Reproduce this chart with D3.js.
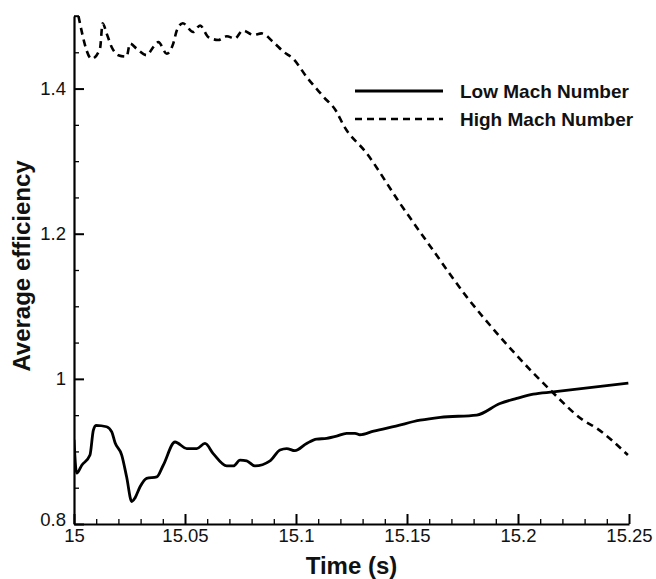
<!DOCTYPE html>
<html>
<head>
<meta charset="utf-8">
<script src="https://cdn.jsdelivr.net/npm/d3@7"></script>
<style>
  html, body { margin: 0; padding: 0; background: #fff; }
  svg text { font-family: "Liberation Sans", Arial, sans-serif; fill: #111; }
</style>
</head>
<body>
<svg id="chart"></svg>
<script>
// chart data
const lowTime = [15.000, 15.0012, 15.0035, 15.0072, 15.0087, 15.0099, 15.0147, 15.017, 15.0185, 15.0215,
  15.0237, 15.026, 15.0275, 15.0297, 15.0327, 15.0373, 15.0402, 15.0455, 15.0508, 15.0553,
  15.059, 15.0627, 15.0688, 15.0718, 15.0748, 15.0778, 15.0815, 15.0883, 15.0928, 15.0958,
  15.0995, 15.1048, 15.1093, 15.1138, 15.1183, 15.1228, 15.1266, 15.1288, 15.135, 15.145,
  15.1559, 15.165, 15.1814, 15.1919, 15.1994, 15.2069, 15.2159, 15.2497];
const lowEff = [0.916, 0.870, 0.881, 0.895, 0.929, 0.936, 0.934, 0.927, 0.912, 0.895,
  0.865, 0.831, 0.836, 0.851, 0.863, 0.865, 0.881, 0.913, 0.904, 0.904,
  0.911, 0.897, 0.880, 0.880, 0.888, 0.887, 0.880, 0.887, 0.902, 0.904,
  0.901, 0.911, 0.917, 0.918, 0.921, 0.925, 0.925, 0.923, 0.928, 0.935,
  0.943, 0.947, 0.950, 0.966, 0.973, 0.979, 0.982, 0.994];

const highTime = [15.002, 15.008, 15.0117, 15.0129, 15.0147, 15.017, 15.020, 15.0237, 15.0252, 15.0282,
  15.0327, 15.0357, 15.038, 15.0418, 15.0447, 15.0463, 15.049, 15.0537, 15.0568, 15.0605,
  15.065, 15.0688, 15.0725, 15.076, 15.0808, 15.0845, 15.0898, 15.0943, 15.0988, 15.1048,
  15.1123, 15.1183, 15.1213, 15.1318, 15.1468, 15.1618, 15.1769, 15.1919, 15.2069, 15.2144,
  15.2294, 15.2354, 15.2495];
const highEff = [1.500, 1.441, 1.455, 1.490, 1.476, 1.457, 1.446, 1.444, 1.462, 1.455,
  1.446, 1.457, 1.464, 1.448, 1.462, 1.480, 1.490, 1.478, 1.487, 1.471,
  1.467, 1.472, 1.469, 1.480, 1.474, 1.476, 1.464, 1.451, 1.441, 1.416,
  1.389, 1.368, 1.350, 1.311, 1.242, 1.177, 1.113, 1.058, 1.008, 0.985,
  0.943, 0.932, 0.895];

const seriesNames = ["Low Mach Number", "High Mach Number"];
const xTicks = [15, 15.05, 15.1, 15.15, 15.2, 15.25];
const xTickLabels = ["15", "15.05", "15.1", "15.15", "15.2", "15.25"];
const yTicks = [0.8, 1.0, 1.2, 1.4];
const yTickLabels = ["0.8", "1", "1.2", "1.4"];

const W = 656, H = 579;
const margin = { top: 16, right: 27, bottom: 55, left: 74 };

const svg = d3.select('#chart').attr('width', W).attr('height', H);

const x = d3.scaleLinear().domain([15, 15.25]).range([margin.left, W - margin.right]);
const y = d3.scaleLinear().domain([0.8, 1.5]).range([H - margin.bottom, margin.top]);

// minor ticks first (inward, short)
const xMinor = d3.range(0, 26).map(i => 15 + i * 0.01).filter(v => !xTicks.some(t => Math.abs(t - v) < 1e-6));
const yMinor = d3.range(0, 15).map(i => 0.8 + i * 0.05).filter(v => !yTicks.some(t => Math.abs(t - v) < 1e-6));

svg.append('g')
  .attr('transform', `translate(0,${y(0.8)})`)
  .call(d3.axisBottom(x).tickValues(xMinor).tickSize(-5).tickFormat(''))
  .call(g => g.select('.domain').remove())
  .call(g => g.selectAll('line').attr('stroke', '#000').attr('stroke-width', 1.3));

svg.append('g')
  .attr('transform', `translate(${x(15)},0)`)
  .call(d3.axisLeft(y).tickValues(yMinor).tickSize(-5).tickFormat(''))
  .call(g => g.select('.domain').remove())
  .call(g => g.selectAll('line').attr('stroke', '#000').attr('stroke-width', 1.3));

// major axes
const xAxis = svg.append('g')
  .attr('transform', `translate(0,${y(0.8)})`)
  .call(d3.axisBottom(x).tickValues(xTicks).tickSizeInner(-10).tickSizeOuter(0).tickPadding(5)
    .tickFormat((d, i) => xTickLabels[i]));
xAxis.select('.domain').attr('stroke', '#000').attr('stroke-width', 2.2);
xAxis.selectAll('line').attr('stroke', '#000').attr('stroke-width', 2);
xAxis.selectAll('text').attr('font-size', 18.5).attr('fill', '#111');

const yAxis = svg.append('g')
  .attr('transform', `translate(${x(15)},0)`)
  .call(d3.axisLeft(y).tickValues(yTicks).tickSizeInner(-10).tickSizeOuter(0).tickPadding(8)
    .tickFormat((d, i) => yTickLabels[i]));
yAxis.select('.domain').attr('stroke', '#000').attr('stroke-width', 2.2);
yAxis.selectAll('line').attr('stroke', '#000').attr('stroke-width', 2);
yAxis.selectAll('text').attr('font-size', 18.5).attr('fill', '#111');
yAxis.selectAll('.tick').filter(d => d === 0.8).select('text').attr('dy', '0.1em');

// top end marker on y axis
svg.append('line')
  .attr('x1', x(15)).attr('x2', x(15) + 5)
  .attr('y1', y(1.5)).attr('y2', y(1.5))
  .attr('stroke', '#000').attr('stroke-width', 1.5);

// axis titles
svg.append('text')
  .attr('x', (x(15) + x(15.25)) / 2).attr('y', 574)
  .attr('text-anchor', 'middle')
  .attr('font-size', 24).attr('font-weight', 'bold')
  .text('Time (s)');

svg.append('text')
  .attr('transform', `translate(30,${(y(0.8) + y(1.5)) / 2 - 4}) rotate(-90)`)
  .attr('text-anchor', 'middle')
  .attr('font-size', 24).attr('font-weight', 'bold')
  .text('Average efficiency');

// lines
svg.append('clipPath').attr('id', 'plotclip')
  .append('rect')
  .attr('x', x(15)).attr('y', y(1.5))
  .attr('width', x(15.25) - x(15) + 4).attr('height', y(0.8) - y(1.5));

const line = d3.line()
  .x(d => x(d[0]))
  .y(d => y(d[1]))
  .curve(d3.curveMonotoneX);

const lowData = d3.zip(lowTime, lowEff);
const highData = d3.zip(highTime, highEff);

const gLines = svg.append('g').attr('clip-path', 'url(#plotclip)');

gLines.append('path')
  .datum(highData)
  .attr('d', line)
  .attr('fill', 'none')
  .attr('stroke', '#000')
  .attr('stroke-width', 2.6)
  .attr('stroke-dasharray', '7,5');

gLines.append('path')
  .datum(lowData)
  .attr('d', line)
  .attr('fill', 'none')
  .attr('stroke', '#000')
  .attr('stroke-width', 2.8)
  .attr('stroke-linejoin', 'round');

// legend
const legend = svg.append('g');
const legendRows = [
  { name: seriesNames[0], dash: null, y: 91 },
  { name: seriesNames[1], dash: '7,5', y: 119 }
];
legendRows.forEach(r => {
  legend.append('line')
    .attr('x1', 355).attr('x2', 443)
    .attr('y1', r.y).attr('y2', r.y)
    .attr('stroke', '#000')
    .attr('stroke-width', r.dash ? 2.6 : 2.8)
    .attr('stroke-dasharray', r.dash);
  legend.append('text')
    .attr('x', 460).attr('y', r.y)
    .attr('dy', '0.35em')
    .attr('font-size', 19).attr('font-weight', 'bold')
    .text(r.name);
});
</script>
</body>
</html>
